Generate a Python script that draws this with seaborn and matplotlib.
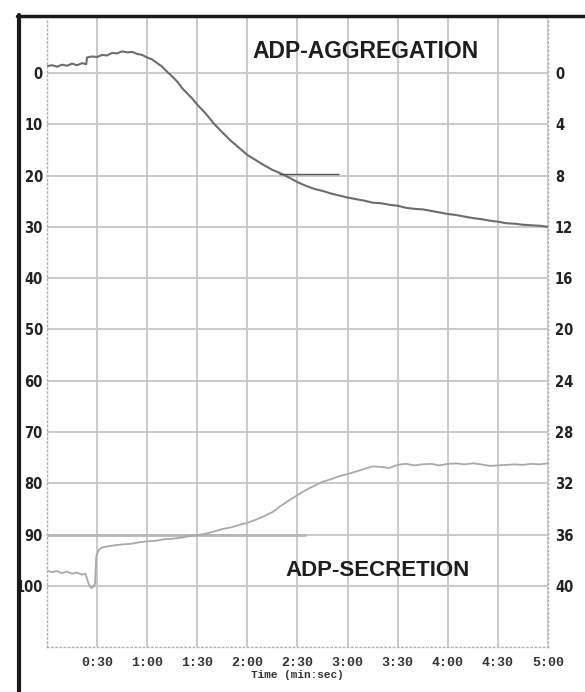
import matplotlib
matplotlib.use("Agg")
import matplotlib.pyplot as plt
from matplotlib.lines import Line2D
import pandas as pd
import seaborn as sns

# time in seconds, values on the left (aggregation %) scale, 0 at top
agg_t = [0, 3, 6, 9, 12, 15, 18, 21, 23.5, 24, 27, 30, 33, 36, 39, 42, 45, 48, 51,
         54, 57, 60, 63, 66, 69, 72, 75, 78, 81, 84, 87, 90, 95, 100, 105, 110, 115,
         120, 125, 130, 135, 140, 145, 150, 155, 160, 165, 170, 175, 180, 185, 190,
         195, 200, 205, 210, 215, 220, 225, 230, 235, 240, 245, 250, 255, 260, 265,
         270, 275, 280, 285, 290, 295, 300]
agg_v = [-1.3, -1.5, -1.2, -1.6, -1.4, -1.8, -1.5, -1.9, -1.7, -3.0, -3.2, -3.1, -3.5,
         -3.4, -3.9, -3.8, -4.2, -4.0, -4.1, -3.7, -3.5, -3.0, -2.6, -1.9, -1.2, -0.2,
         0.7, 1.7, 3.0, 4.0, 5.0, 6.2, 7.9, 9.9, 11.6, 13.2, 14.6, 16.0, 17.0, 18.0,
         18.9, 19.6, 20.4, 21.3, 22.0, 22.6, 23.0, 23.5, 23.9, 24.3, 24.6, 24.9, 25.3,
         25.4, 25.7, 25.9, 26.3, 26.5, 26.6, 26.9, 27.2, 27.5, 27.7, 28.0, 28.3, 28.5,
         28.8, 29.0, 29.3, 29.4, 29.6, 29.7, 29.8, 30.0]

sec_t = [0, 3, 6, 9, 12, 15, 18, 21, 23, 25, 26.5, 28, 28.8, 29.5, 31, 33, 36, 40, 45,
         50, 55, 60, 65, 70, 75, 80, 85, 90, 95, 100, 105, 110, 115, 120, 125, 130,
         135, 140, 145, 150, 155, 160, 165, 170, 175, 180, 185, 190, 195, 200, 205,
         210, 215, 220, 225, 230, 235, 240, 245, 250, 255, 260, 265, 270, 275, 280,
         285, 290, 295, 300]
sec_v = [97.0, 97.3, 97.1, 97.5, 97.2, 97.6, 97.4, 97.8, 97.6, 99.6, 100.4, 100.1, 99.5,
         94.3, 93.0, 92.5, 92.3, 92.1, 91.9, 91.8, 91.5, 91.3, 91.2, 90.9, 90.8, 90.6,
         90.3, 90.1, 89.8, 89.4, 88.9, 88.6, 88.1, 87.7, 87.1, 86.4, 85.6, 84.4, 83.3,
         82.3, 81.3, 80.5, 79.7, 79.2, 78.6, 78.2, 77.7, 77.2, 76.7, 76.8, 77.0, 76.4,
         76.2, 76.5, 76.3, 76.2, 76.5, 76.2, 76.1, 76.3, 76.1, 76.3, 76.6, 76.5, 76.4,
         76.3, 76.4, 76.2, 76.3, 76.1]

x_ticks = [30, 60, 90, 120, 150, 180, 210, 240, 270, 300]
x_labels = ["0:30", "1:00", "1:30", "2:00", "2:30", "3:00", "3:30", "4:00", "4:30", "5:00"]
left_ticks = [0, 10, 20, 30, 40, 50, 60, 70, 80, 90, 100]
right_ticks = [0, 4, 8, 12, 16, 20, 24, 28, 32, 36, 40]

agg = pd.DataFrame({"t": agg_t, "v": agg_v})
sec = pd.DataFrame({"t": sec_t, "v": sec_v})

sns.set_style("white")
fig = plt.figure(figsize=(5.85, 6.92), dpi=100)
ax = fig.add_axes([0.0803, 0.065, 0.8564, 0.909])

sns.lineplot(data=agg, x="t", y="v", ax=ax, color="#6c6c6c", lw=1.5)
sns.lineplot(data=sec, x="t", y="v", ax=ax, color="#a9a9a9", lw=1.3)

# reference marker line at 20 and baseline at 90
ax.hlines(19.8, 139, 175, color="#555555", lw=1.0)
ax.hlines(90, 0, 155, color="#b5b5b5", lw=2.0, zorder=1)

ax.text(191, -4.2, "ADP-AGGREGATION", family="Liberation Sans", weight="bold",
        fontsize=16.5, color="#1e1e1e", ha="center", va="center")
ax.text(198, 96.9, "ADP-SECRETION", family="Liberation Sans", weight="bold",
        fontsize=16, color="#1e1e1e", ha="center", va="center")

tick_font = dict(family="DejaVu Sans", weight="bold", fontstretch="condensed",
                 fontsize=10.5, color="#222222")

ax.set_xlim(0, 300)
ax.set_ylim(111.9, -10.7)
ax.set_xticks(x_ticks)
ax.set_xticklabels(x_labels, family="Liberation Mono", weight="bold", fontsize=9.5, color="#333333")
ax.set_yticks(left_ticks)
ax.set_yticklabels([str(v) for v in left_ticks], **tick_font)
ax.tick_params(axis="both", length=0)
ax.tick_params(axis="x", pad=7)
ax.tick_params(axis="y", pad=3)
ax.set_xlabel("Time (min:sec)", family="Liberation Mono", weight="bold", fontsize=8,
              color="#333333", labelpad=1)
ax.set_ylabel("")
ax.grid(True, color="#c6c6c6", lw=1.3)
ax.set_axisbelow(True)

ax.spines["top"].set_visible(False)
for side in ["left", "right", "bottom"]:
    ax.spines[side].set_color("#b0b0b0")
    ax.spines[side].set_linestyle((0, (1, 2)))
    ax.spines[side].set_linewidth(1.0)

ax2 = ax.twinx()
ax2.set_ylim(111.9 * 0.4, -10.7 * 0.4)
ax2.set_yticks(right_ticks)
ax2.set_yticklabels([str(v) for v in right_ticks], **tick_font)
ax2.tick_params(axis="y", length=0, pad=5)
for s in ax2.spines.values():
    s.set_visible(False)

# black frame of the scanned figure
fig.add_artist(Line2D([19 / 585, 19 / 585], [0, 1 - 15 / 692], color="#1a1a1a", lw=3.0))
fig.add_artist(Line2D([17 / 585, 1], [1 - 16 / 692, 1 - 16 / 692], color="#1a1a1a", lw=2.5))

fig.savefig("out.png", dpi=100)
